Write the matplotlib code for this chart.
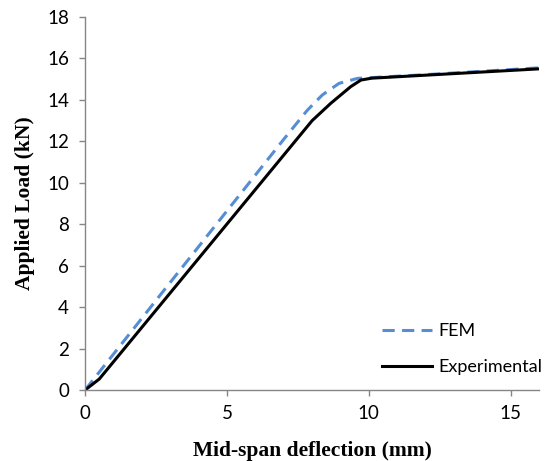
import matplotlib.pyplot as plt

# load-deflection data (mm, kN)
fem_x = [0.0, 0.3, 2.6, 7.0, 7.83, 8.36, 8.95, 9.6, 12.0, 16.0]
fem_y = [0.0, 0.52, 4.5, 12.1, 13.5, 14.24, 14.8, 15.04, 15.22, 15.55]

exp_x = [0.0, 0.5, 8.0, 8.66, 9.36, 9.72, 10.1, 16.0]
exp_y = [0.0, 0.53, 13.0, 13.84, 14.64, 14.96, 15.05, 15.5]

legend = ['FEM', 'Experimental']

tick_font = 'Lato'
label_font = 'Liberation Serif'
grey = '#868686'

fig = plt.figure(figsize=(5.49, 4.61), dpi=100)
ax = fig.add_axes([0.155, 0.154, 0.827, 0.809])

ax.plot(fem_x, fem_y, linestyle='--', color='#558ED5', linewidth=2.2, dashes=(4.0, 2.4))
ax.plot(exp_x, exp_y, linestyle='-', color='black', linewidth=2.2)

ax.set_xlim(0, 16)
ax.set_ylim(0, 18)
ax.set_xticks([0, 5, 10, 15])
ax.set_yticks(range(0, 19, 2))

for side in ['top', 'right']:
    ax.spines[side].set_visible(False)
for side in ['left', 'bottom']:
    ax.spines[side].set_color(grey)
    ax.spines[side].set_linewidth(1.0)
ax.tick_params(direction='out', length=4.5, width=1.0, color=grey, labelsize=13.5)
ax.tick_params(axis='y', pad=7)
ax.tick_params(axis='x', pad=6)
for lab in ax.get_xticklabels() + ax.get_yticklabels():
    lab.set_fontfamily(tick_font)

ax.set_xlabel('Mid-span deflection (mm)', fontfamily=label_font, fontweight='bold', fontsize=15.5, labelpad=14)
ax.set_ylabel('Applied Load (kN)', fontfamily=label_font, fontweight='bold', fontsize=15.5, labelpad=9)

leg = ax.legend(legend, loc='lower right', frameon=False, handlelength=2.8, handletextpad=0.3,
                labelspacing=1.1, borderaxespad=0.0, bbox_to_anchor=(1.022, 0.02),
                prop={'family': tick_font, 'size': 13})

plt.savefig('out.png', dpi=100)
